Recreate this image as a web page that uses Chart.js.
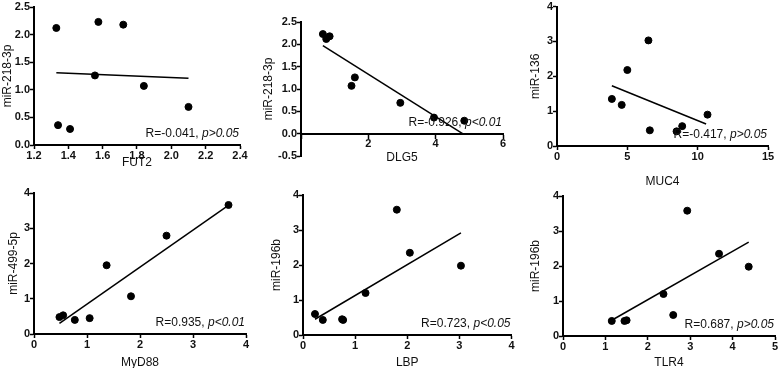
<!DOCTYPE html>
<html>
<head>
<meta charset="utf-8">
<script src="https://cdn.jsdelivr.net/npm/chart.js@4.4.1/dist/chart.umd.min.js"></script>
<style>
  body { margin: 0; width: 778px; height: 368px; overflow: hidden; background: #fff; position: relative; }
  canvas { position: absolute; }
</style>
</head>
<body>
<canvas id="c1"></canvas>
<canvas id="c2"></canvas>
<canvas id="c3"></canvas>
<canvas id="c4"></canvas>
<canvas id="c5"></canvas>
<canvas id="c6"></canvas>
<script>
// FUT2 vs miR-218-3p
const fut2X = [1.33, 1.34, 1.41, 1.555, 1.575, 1.72, 1.84, 2.10];
const fut2Y = [2.12, 0.36, 0.29, 1.26, 2.23, 2.18, 1.07, 0.69];
const fut2FitX = [1.33, 2.10];
const fut2FitY = [1.31, 1.21];

// DLG5 vs miR-218-3p
const dlg5X = [0.65, 0.75, 0.85, 1.5, 1.6, 2.95, 3.95, 4.85];
const dlg5Y = [2.23, 2.12, 2.18, 1.07, 1.26, 0.69, 0.36, 0.29];
const dlg5FitX = [0.65, 4.8];
const dlg5FitY = [1.97, 0.0];

// MUC4 vs miR-136
const muc4X = [3.9, 4.6, 5.0, 6.5, 6.6, 8.5, 8.9, 10.7];
const muc4Y = [1.35, 1.18, 2.18, 3.03, 0.45, 0.42, 0.57, 0.90];
const muc4FitX = [3.9, 10.6];
const muc4FitY = [1.73, 0.63];

// MyD88 vs miR-499-5p
const myd88X = [0.48, 0.55, 0.77, 1.05, 1.37, 1.83, 2.5, 3.67];
const myd88Y = [0.48, 0.53, 0.40, 0.45, 1.95, 1.07, 2.79, 3.66];
const myd88FitX = [0.48, 3.62];
const myd88FitY = [0.30, 3.60];

// LBP vs miR-196b
const lbpX = [0.23, 0.38, 0.75, 0.77, 1.2, 1.8, 2.05, 3.03];
const lbpY = [0.60, 0.43, 0.45, 0.43, 1.20, 3.58, 2.35, 1.98];
const lbpFitX = [0.23, 3.03];
const lbpFitY = [0.45, 2.92];

// TLR4 vs miR-196b
const tlr4X = [1.15, 1.45, 1.5, 2.37, 2.6, 2.93, 3.68, 4.38];
const tlr4Y = [0.43, 0.43, 0.45, 1.20, 0.60, 3.58, 2.35, 1.98];
const tlr4FitX = [1.15, 4.38];
const tlr4FitY = [0.45, 2.68];

const FONT = "'Liberation Sans', Arial, sans-serif";

const panels = [
  { id: 'c1', xs: fut2X, ys: fut2Y, fx: fut2FitX, fy: fut2FitY, xTitle: 'FUT2', yTitle: 'miR-218-3p',
    rText: 'R=-0.041, ', pText: 'p>0.05', xMin: 1.2, xMax: 2.4, xStep: 0.2, yMin: 0, yMax: 2.5, yStep: 0.5, dec: 1,
    box: [0, 0, 258, 180], pad: [7, 18, 0], yW: 34, xH: 35, yTP: 0, xTP: 10 },
  { id: 'c2', xs: dlg5X, ys: dlg5Y, fx: dlg5FitX, fy: dlg5FitY, xTitle: 'DLG5', yTitle: 'miR-218-3p',
    rText: 'R=-0.926, ', pText: 'p<0.01', xMin: 0, xMax: 6, xStep: 2, yMin: -0.5, yMax: 2.5, yStep: 0.5, dec: 1,
    box: [258, 0, 258, 180], pad: [22, 13, 24], yW: 43, xH: 34, yTP: 3, xTP: 3, atZero: true },
  { id: 'c3', xs: muc4X, ys: muc4Y, fx: muc4FitX, fy: muc4FitY, xTitle: 'MUC4', yTitle: 'miR-136',
    rText: 'R=-0.417, ', pText: 'p>0.05', xMin: 0, xMax: 15, xStep: 5, yMin: 0, yMax: 4, yStep: 1, dec: 0,
    box: [516, 0, 262, 190], pad: [6, 10, 0], yW: 41, xH: 44, yTP: 12, xTP: 1 },
  { id: 'c4', xs: myd88X, ys: myd88Y, fx: myd88FitX, fy: myd88FitY, xTitle: 'MyD88', yTitle: 'miR-499-5p',
    rText: 'R=0.935, ', pText: 'p<0.01', xMin: 0, xMax: 4, xStep: 1, yMin: 0, yMax: 4, yStep: 1, dec: 0,
    box: [0, 180, 258, 195], pad: [13, 12, 0], yW: 34, xH: 41, yTP: 6, xTP: 5 },
  { id: 'c5', xs: lbpX, ys: lbpY, fx: lbpFitX, fy: lbpFitY, xTitle: 'LBP', yTitle: 'miR-196b',
    rText: 'R=0.723, ', pText: 'p<0.05', xMin: 0, xMax: 4, xStep: 1, yMin: 0, yMax: 4, yStep: 1, dec: 0,
    box: [258, 180, 258, 195], pad: [15, 4, 0], yW: 45, xH: 40, yTP: 11, xTP: 5 },
  { id: 'c6', xs: tlr4X, ys: tlr4Y, fx: tlr4FitX, fy: tlr4FitY, xTitle: 'TLR4', yTitle: 'miR-196b',
    rText: 'R=0.687, ', pText: 'p>0.05', xMin: 0, xMax: 5, xStep: 1, yMin: 0, yMax: 4, yStep: 1, dec: 0,
    box: [516, 180, 270, 195], pad: [16, 11, 0], yW: 47, xH: 39, yTP: 12, xTP: 5 }
];

// R / p annotation in the lower right corner of each plot
const statText = {
  id: 'statText',
  afterDraw(chart, args, opts) {
    const ctx = chart.ctx;
    const area = chart.chartArea;
    const y0 = chart.scales.y.getPixelForValue(0);
    ctx.save();
    ctx.fillStyle = '#111';
    ctx.textBaseline = 'middle';
    ctx.font = 'italic 12px ' + FONT;
    const pw = ctx.measureText(opts.p).width;
    ctx.font = '12px ' + FONT;
    const rw = ctx.measureText(opts.r).width;
    const right = area.right - 1;
    const y = y0 - 11;
    ctx.fillText(opts.r, right - pw - rw, y);
    ctx.font = 'italic 12px ' + FONT;
    ctx.fillText(opts.p, right - pw, y);
    ctx.restore();
  }
};

panels.forEach(p => {
  const cv = document.getElementById(p.id);
  cv.width = p.box[2];
  cv.height = p.box[3];
  cv.style.left = p.box[0] + 'px';
  cv.style.top = p.box[1] + 'px';

  const axisGrid = { display: true, drawOnChartArea: false, drawTicks: true, tickLength: 4, tickWidth: 1.5, tickColor: '#000' };
  const axisBorder = { display: true, color: '#000', width: 2 };

  new Chart(cv.getContext('2d'), {
    type: 'scatter',
    data: {
      datasets: [
        {
          data: p.xs.map((x, i) => ({ x: x, y: p.ys[i] })),
          backgroundColor: '#000', borderColor: '#000', pointRadius: 3.5, pointHoverRadius: 3.5
        },
        {
          data: p.fx.map((x, i) => ({ x: x, y: p.fy[i] })),
          showLine: true, borderColor: '#000', borderWidth: 1.5, pointRadius: 0, fill: false
        }
      ]
    },
    options: {
      responsive: false,
      animation: false,
      layout: { padding: { left: 0, top: p.pad[0], right: p.pad[1], bottom: p.pad[2] } },
      plugins: {
        legend: { display: false },
        tooltip: { enabled: false },
        statText: { r: p.rText, p: p.pText }
      },
      scales: {
        x: {
          type: 'linear',
          position: p.atZero ? { y: 0 } : 'bottom',
          min: p.xMin, max: p.xMax,
          grid: axisGrid, border: axisBorder,
          afterFit: s => { s.height = p.xH; },
          ticks: {
            stepSize: p.xStep, color: '#111', padding: 0,
            font: { family: FONT, size: 11, weight: 'bold' },
            callback: v => (p.atZero && v === 0) ? '' : (p.xStep < 1 ? v.toFixed(1) : String(v))
          },
          title: { display: true, text: p.xTitle, color: '#111', font: { family: FONT, size: 12 },
                   padding: { top: 0, bottom: p.xTP } }
        },
        y: {
          type: 'linear',
          min: p.yMin, max: p.yMax,
          grid: axisGrid, border: axisBorder,
          afterFit: s => { s.width = p.yW; },
          ticks: {
            stepSize: p.yStep, color: '#111', padding: 0,
            font: { family: FONT, size: 11, weight: 'bold' },
            callback: v => v.toFixed(p.dec)
          },
          title: { display: true, text: p.yTitle, color: '#111', font: { family: FONT, size: 12 },
                   padding: { top: p.yTP, bottom: 0 } }
        }
      }
    },
    plugins: [statText]
  });
});
</script>
</body>
</html>
